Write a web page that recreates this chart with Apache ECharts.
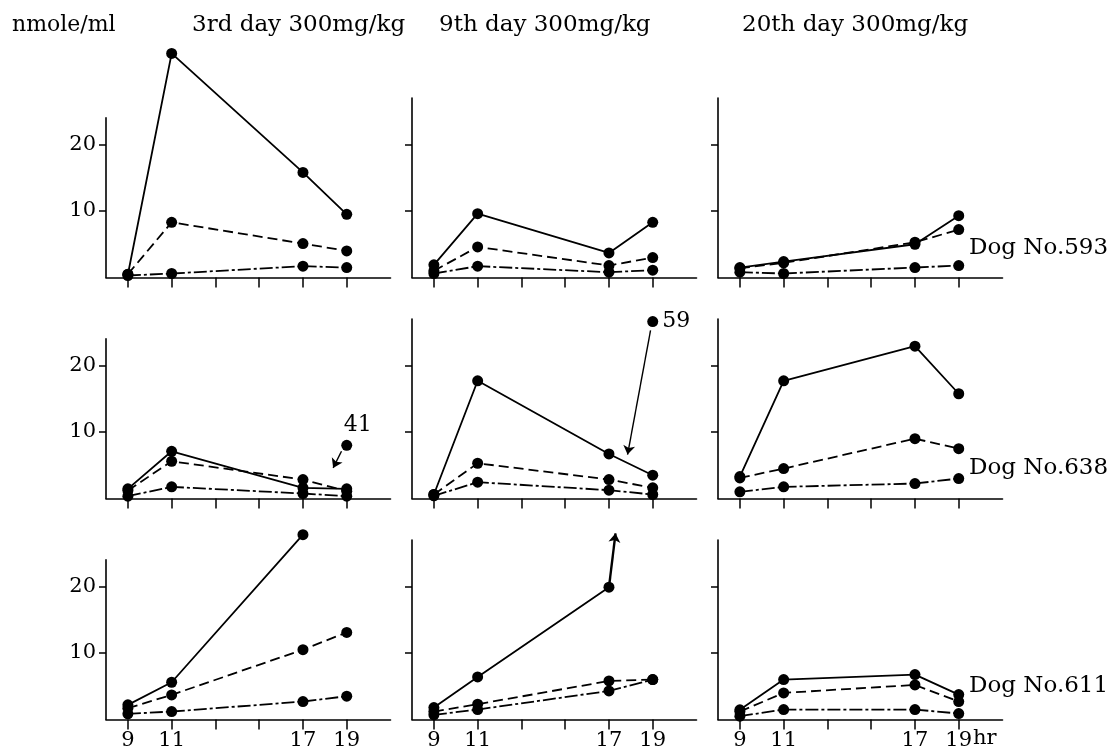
<!DOCTYPE html>
<html>
<head>
<meta charset="utf-8">
<script src="https://cdn.jsdelivr.net/npm/echarts@6/dist/echarts.min.js"></script>
<style>
html,body{margin:0;padding:0;background:#fff;}
#chart{width:1111px;height:752px;}
</style>
</head>
<body>
<div id="chart"></div>
<script>
// ---- data ----
const HOURS = [9, 11, 17, 19];
const X_TICKS = [9, 11, 13, 15, 17, 19];
const X_LABELS = [9, 11, 17, 19];
const Y_TICKS = [10, 20];
const Y_UNIT = 'nmole/ml';
const X_UNIT = 'hr';
const COL_TITLES = ['3rd day 300mg/kg', '9th day 300mg/kg', '20th day 300mg/kg'];
const ROW_DOGS = ['Dog No.593', 'Dog No.638', 'Dog No.611'];

// each array: [3rd day, 9th day, 20th day], values at HOURS
const DOG593_SOLID   = [[0.45, 33.7, 15.8, 9.5], [1.9, 9.6, 3.7, 8.3], [1.5, 2.4, 5.0, 9.3]];
const DOG593_DASHED  = [[0.5, 8.3, 5.1, 4.0],    [1.0, 4.6, 1.8, 3.0], [1.4, 2.2, 5.3, 7.2]];
const DOG593_DASHDOT = [[0.3, 0.6, 1.7, 1.5],    [0.6, 1.7, 0.8, 1.1], [0.8, 0.6, 1.5, 1.8]];

const DOG638_SOLID   = [[1.45, 7.1, 1.6, 1.45],  [0.6, 17.7, 6.7, 3.5], [3.3, 17.7, 22.9, 15.75]];
const DOG638_DASHED  = [[1.2, 5.6, 2.85, 1.1],   [0.6, 5.3, 2.85, 1.6], [3.1, 4.5, 9.0, 7.5]];
const DOG638_DASHDOT = [[0.35, 1.75, 0.75, 0.35],[0.4, 2.45, 1.25, 0.6], [1.0, 1.75, 2.25, 3.0]];

const DOG611_SOLID   = [[2.2, 5.6, 27.8, null],  [1.8, 6.4, 19.9, null], [1.45, 6.0, 6.75, 3.75]];
const DOG611_DASHED  = [[1.7, 3.7, 10.5, 13.1],  [1.2, 2.3, 5.8, 6.0],   [1.2, 4.0, 5.2, 2.7]];
const DOG611_DASHDOT = [[0.85, 1.2, 2.7, 3.5],   [0.7, 1.5, 4.3, 6.0],   [0.5, 1.5, 1.5, 0.9]];

// off-scale values shown as separate points: [row, col, hour, plotted y, label]
const OFFSCALE = [[1, 0, 19, 8.0, '41'], [1, 1, 19, 26.6, '59']];
// arrows in data units: [row, col, [x1, y1], [x2, y2]]
const ARROWS = [
  [1, 0, [18.76, 7.1], [18.38, 4.6]],
  [1, 1, [18.9, 25.3], [17.85, 6.6]],
  [2, 1, [17.0, 19.9], [17.3, 28.0]]
];

const DOGS = [
  [DOG593_SOLID, DOG593_DASHED, DOG593_DASHDOT],
  [DOG638_SOLID, DOG638_DASHED, DOG638_DASHDOT],
  [DOG611_SOLID, DOG611_DASHED, DOG611_DASHDOT]
];

// ---- layout ----
const FONT = '"DejaVu Serif", "Liberation Serif", serif';
const COL_LEFT = [106, 412, 718];
const ROW_BOTTOM = [277.5, 498.5, 719.5];
const PX_PER_UNIT = 6.65;
const Y_MAX = [24, 27, 27];
const X_MIN = 8, X_MAX = 21;
const GRID_W = 284.5;
const LINE_TYPES = ['solid', [10, 5], [13, 3, 3, 3]];

const grids = [], xAxes = [], yAxes = [], series = [];
let idx = 0;
const panelIndex = {};
for (let r = 0; r < 3; r++) {
  for (let c = 0; c < 3; c++) {
    const h = Y_MAX[c] * PX_PER_UNIT;
    grids.push({left: COL_LEFT[c], width: GRID_W, top: ROW_BOTTOM[r] - h, height: h, containLabel: false});
    xAxes.push({
      type: 'value', gridIndex: idx, min: X_MIN, max: X_MAX,
      splitLine: {show: false},
      axisLine: {show: true, onZero: false, lineStyle: {color: '#000', width: 1.6}},
      axisTick: {show: true, customValues: X_TICKS, length: 10, lineStyle: {color: '#000', width: 1.5}},
      axisLabel: {show: r === 2, customValues: X_LABELS, fontFamily: FONT, fontSize: 21, color: '#000', margin: 11}
    });
    yAxes.push({
      type: 'value', gridIndex: idx, min: 0, max: Y_MAX[c],
      splitLine: {show: false},
      axisLine: {show: true, onZero: false, lineStyle: {color: '#000', width: 1.6}},
      axisTick: {show: true, customValues: Y_TICKS, length: 7, lineStyle: {color: '#000', width: 1.5}},
      axisLabel: {show: c === 0, customValues: Y_TICKS, fontFamily: FONT, fontSize: 21, color: '#000', margin: 10}
    });
    panelIndex[r + '_' + c] = idx;
    DOGS[r].forEach((arr, k) => {
      series.push({
        type: 'line', xAxisIndex: idx, yAxisIndex: idx, clip: false, silent: true,
        data: HOURS.map((hh, i) => [hh, arr[c][i]]),
        symbol: 'circle', symbolSize: 11, showSymbol: true,
        itemStyle: {color: '#000', opacity: 1},
        lineStyle: {color: '#000', width: 1.8, type: LINE_TYPES[k]},
        connectNulls: false, animation: false
      });
    });
    idx++;
  }
}

OFFSCALE.forEach(([r, c, x, y, lab]) => {
  const i = panelIndex[r + '_' + c];
  series.push({
    type: 'scatter', xAxisIndex: i, yAxisIndex: i, clip: false, silent: true, animation: false,
    symbol: 'circle', symbolSize: 11, itemStyle: {color: '#000', opacity: 1},
    data: [[x, y]],
    label: {show: true, formatter: lab, position: lab === '41' ? 'top' : 'right',
            offset: lab === '41' ? [11, 0] : [0, 0], distance: 4,
            fontFamily: FONT, fontSize: 22, color: '#000'}
  });
});

ARROWS.forEach(([r, c, p1, p2]) => {
  const i = panelIndex[r + '_' + c];
  series.push({
    type: 'lines', coordinateSystem: 'cartesian2d', xAxisIndex: i, yAxisIndex: i,
    clip: false, silent: true, animation: false,
    symbol: ['none', 'arrow'], symbolSize: 9,
    lineStyle: {color: '#000', type: 'solid', width: (r === 2 ? 2.4 : 1.4), opacity: 1},
    data: [{coords: [p1, p2]}]
  });
});

const graphics = [];
graphics.push({type: 'text', left: 12, top: 14, style: {text: Y_UNIT, font: '22px ' + FONT, fill: '#000'}});
const TITLE_X = [192, 439, 742];
COL_TITLES.forEach((t, c) => graphics.push({type: 'text', left: TITLE_X[c], top: 14, style: {text: t, font: '23px ' + FONT, fill: '#000'}}));
const DOG_Y = [237, 457, 675];
ROW_DOGS.forEach((t, r) => graphics.push({type: 'text', left: 969, top: DOG_Y[r], style: {text: t, font: '23px ' + FONT, fill: '#000'}}));
graphics.push({type: 'text', left: 973, top: 728, style: {text: X_UNIT, font: '21px ' + FONT, fill: '#000'}});

const chart = echarts.init(document.getElementById('chart'));
chart.setOption({
  animation: false,
  backgroundColor: '#fff',
  grid: grids, xAxis: xAxes, yAxis: yAxes, series: series,
  graphic: graphics
});
</script>
</body>
</html>
